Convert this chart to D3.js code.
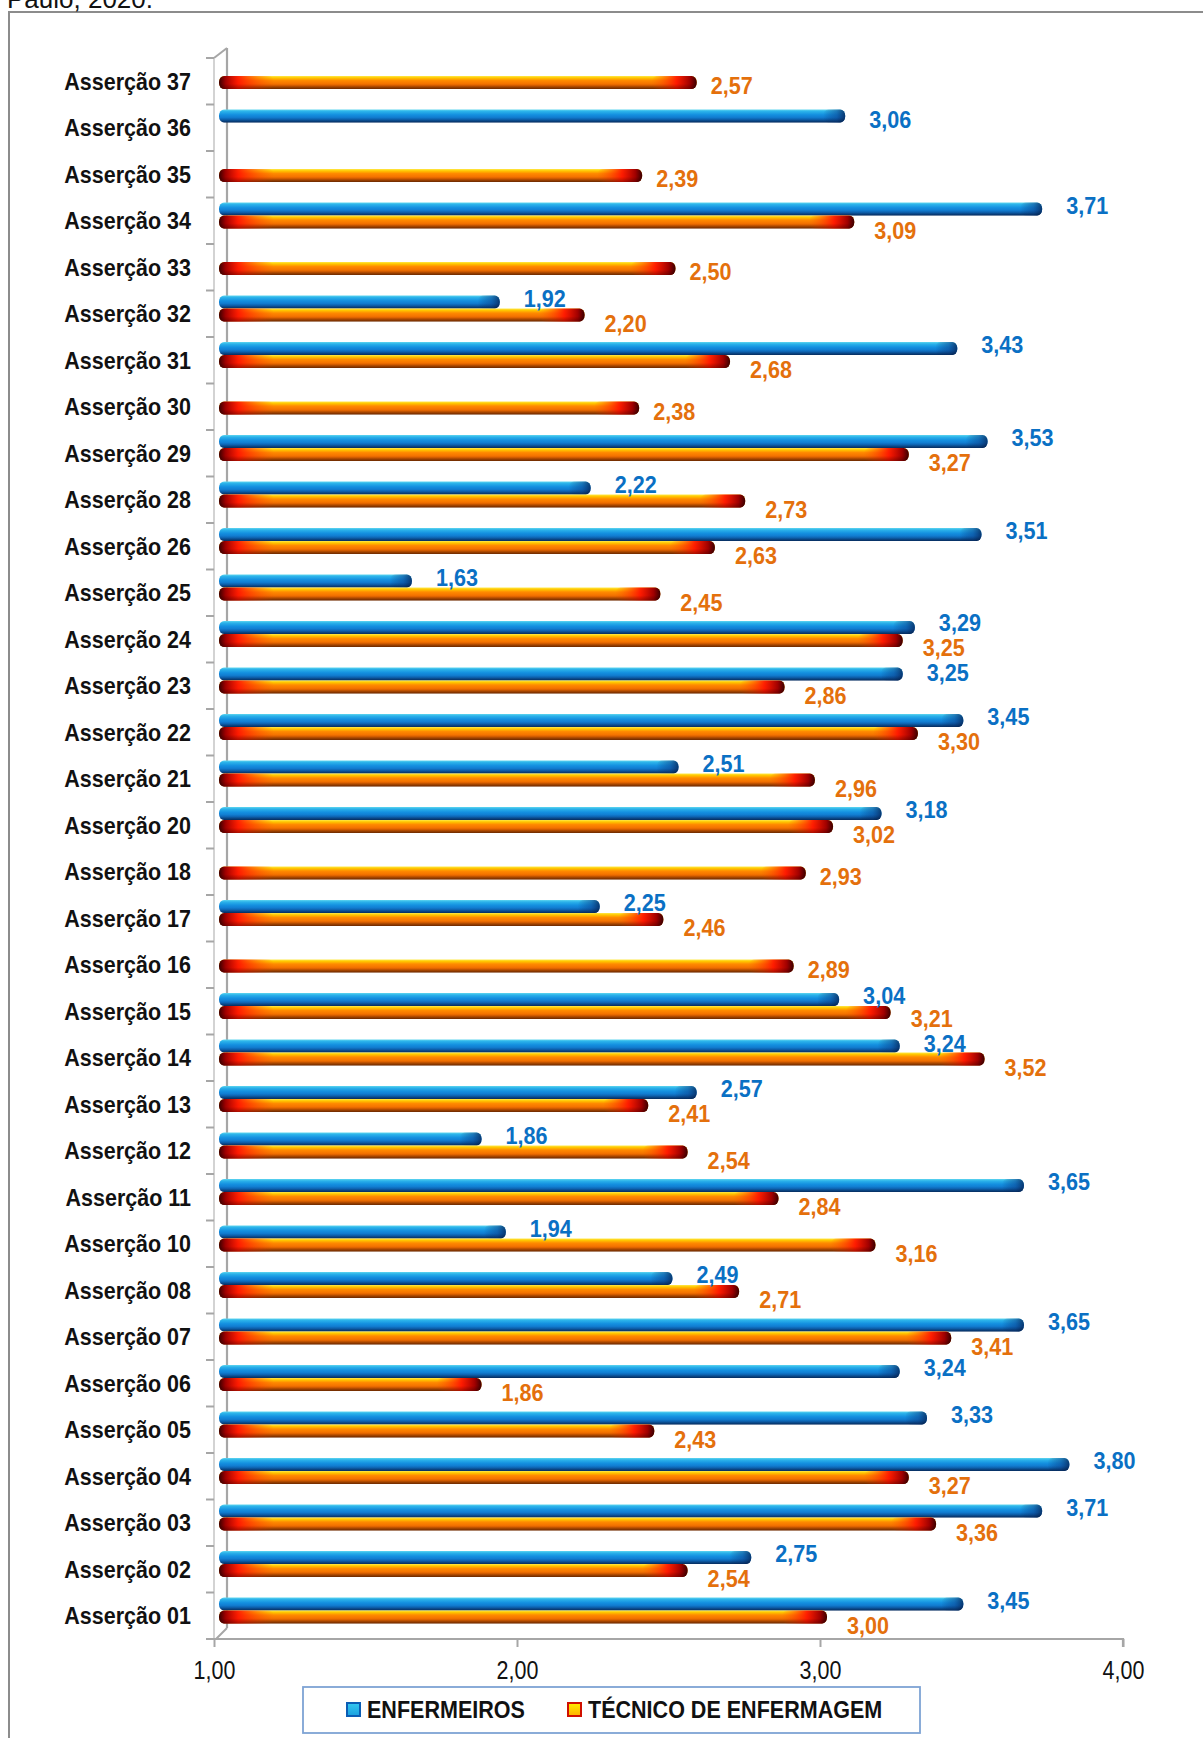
<!DOCTYPE html>
<html>
<head>
<meta charset="utf-8">
<script src="https://cdn.jsdelivr.net/npm/d3@7"></script>
<style>
  html, body { margin: 0; padding: 0; background: #fff; }
  svg { display: block; }
</style>
</head>
<body>
<svg id="chart" width="1203" height="1738"></svg>
<script>
// ---------- DATA ----------
const categories = ["Asserção 37","Asserção 36","Asserção 35","Asserção 34","Asserção 33","Asserção 32","Asserção 31","Asserção 30","Asserção 29","Asserção 28","Asserção 26","Asserção 25","Asserção 24","Asserção 23","Asserção 22","Asserção 21","Asserção 20","Asserção 18","Asserção 17","Asserção 16","Asserção 15","Asserção 14","Asserção 13","Asserção 12","Asserção 11","Asserção 10","Asserção 08","Asserção 07","Asserção 06","Asserção 05","Asserção 04","Asserção 03","Asserção 02","Asserção 01"];
const enfermeiros = [null,3.06,null,3.71,null,1.92,3.43,null,3.53,2.22,3.51,1.63,3.29,3.25,3.45,2.51,3.18,null,2.25,null,3.04,3.24,2.57,1.86,3.65,1.94,2.49,3.65,3.24,3.33,3.80,3.71,2.75,3.45];
const tecnico = [2.57,null,2.39,3.09,2.50,2.20,2.68,2.38,3.27,2.73,2.63,2.45,3.25,2.86,3.30,2.96,3.02,2.93,2.46,2.89,3.21,3.52,2.41,2.54,2.84,3.16,2.71,3.41,1.86,2.43,3.27,3.36,2.54,3.00];
const seriesNames = ["ENFERMEIROS","TÉCNICO DE ENFERMAGEM"];
const tickValues = [1,2,3,4];
const headerText = "Paulo, 2020.";

// ---------- SETUP ----------
const svg = d3.select("#chart");
const FONT = "'Liberation Sans',Arial,sans-serif";
const locale = d3.formatLocale({decimal: ",", thousands: ".", grouping: [3], currency: ["R$",""]});
const fmt = locale.format(".2f");

const x = d3.scaleLinear().domain([1, 4]).range([214, 1123]);
const y = d3.scaleBand().domain(categories).range([58, 1639]).padding(0);
const sub = d3.scaleBand().domain(["E","T"]).range([5, 31]).padding(0);
const barH = sub.bandwidth();
const depth = 7;

function narrow(sel, px, py, sx) {
  sel.attr("x", 0).attr("y", 0)
     .attr("transform", (d, i) => `translate(${px(d, i)},${py(d, i)}) scale(${sx},1)`);
  return sel;
}

// outer frame and header
svg.append("rect").attr("x", 9).attr("y", 12).attr("width", 1300).attr("height", 1800)
  .attr("fill", "none").attr("stroke", "#8c8c8c").attr("stroke-width", 2);
svg.append("text").attr("x", 7).attr("y", 8).text(headerText)
  .attr("font-family", FONT).attr("font-size", 26).attr("fill", "#111");

// ---------- GRADIENTS ----------
const defs = svg.append("defs");
function grad(id, horiz, stops) {
  const g = defs.append("linearGradient").attr("id", id)
    .attr("x1", 0).attr("y1", 0).attr("x2", horiz ? 1 : 0).attr("y2", horiz ? 0 : 1);
  stops.forEach(s => g.append("stop").attr("offset", s[0]).attr("stop-color", s[1])
    .attr("stop-opacity", s[2] == null ? 1 : s[2]));
}
grad("blueV", false, [[0,"#5fd6ef"],[0.15,"#2bb2ea"],[0.4,"#1490e0"],[0.75,"#0f6fc6"],[1,"#093f86"]]);
grad("blueEnd", true, [[0,"#062f6e",0],[0.6,"#0a3f8a",0.5],[1,"#06285c",0.85]]);
grad("orangeV", false, [[0,"#ffe94a"],[0.14,"#ffc800"],[0.35,"#ff8a00"],[0.7,"#f06a00"],[1,"#9a3a00"]]);
grad("orangeL", true, [[0,"#3a0000",1],[0.12,"#a00000",1],[0.35,"#ff1000",0.9],[1,"#ff4a00",0]]);
grad("orangeR", true, [[0,"#ff4a00",0],[0.55,"#ff1000",0.9],[0.85,"#a00000",1],[1,"#3a0000",1]]);
grad("shade", false, [[0,"#ffffff",0],[0.6,"#000000",0],[1,"#000000",0.3]]);
grad("legBlue", false, [[0,"#35c8f0"],[1,"#1aa0e0"]]);
grad("legOrange", false, [[0,"#ffee00"],[1,"#ffb000"]]);

// ---------- AXES (3D wall) ----------
const axisColor = "#a6a6a6";
const gAx = svg.append("g");
gAx.append("line").attr("x1", 227).attr("x2", 227).attr("y1", 48).attr("y2", 1628)
  .attr("stroke", axisColor).attr("stroke-width", 2.2);
gAx.append("line").attr("x1", x(1)).attr("y1", y.range()[0]).attr("x2", 227).attr("y2", 48)
  .attr("stroke", axisColor).attr("stroke-width", 2);
gAx.append("line").attr("x1", x(1) + 2).attr("y1", 1639).attr("x2", 227).attr("y2", 1628)
  .attr("stroke", axisColor).attr("stroke-width", 2);
gAx.append("line").attr("x1", x(1)).attr("x2", x(1)).attr("y1", y.range()[0]).attr("y2", y.range()[1])
  .attr("stroke", "#c4c4c4").attr("stroke-width", 1.5);
const boundaries = categories.map(c => y(c)).concat([y.range()[1]]);
gAx.selectAll(".ytick").data(boundaries).join("line")
  .attr("x1", x(1) - 8).attr("x2", x(1)).attr("y1", d => d).attr("y2", d => d)
  .attr("stroke", axisColor).attr("stroke-width", 2);

// x axis
const xAxis = d3.axisBottom(x).tickValues(tickValues).tickFormat(fmt).tickSize(8).tickPadding(10);
const gx = svg.append("g").attr("transform", "translate(0,1639)").call(xAxis);
gx.select(".domain").attr("stroke", axisColor).attr("stroke-width", 2.2).attr("d", `M${x(1)-8},0H${x(4)}V8`);
gx.selectAll(".tick line").attr("stroke", axisColor).attr("stroke-width", 2);
gx.selectAll(".tick text").attr("font-family", FONT).attr("font-size", 25).attr("fill", "#111")
  .attr("dy", null).attr("x", 0).attr("y", 0)
  .attr("transform", "translate(0,40) scale(0.86,1)");

// category labels
narrow(svg.append("g").selectAll("text").data(categories).join("text"),
       () => 191, d => y(d) + y.bandwidth() / 2 + 8.3, 0.935)
  .attr("text-anchor", "end").attr("font-family", FONT).attr("font-weight", "bold")
  .attr("font-size", 23).attr("fill", "#111").text(d => d);

// ---------- BARS ----------
const rows = categories.map((c, i) => ({cat: c, E: enfermeiros[i], T: tecnico[i]}));
const items = [];
rows.forEach(r => {
  const both = r.E != null && r.T != null;
  if (r.E != null) items.push({cat: r.cat, key: "E", v: r.E, both});
  if (r.T != null) items.push({cat: r.cat, key: "T", v: r.T, both});
});

const gBars = svg.append("g");
const bar = gBars.selectAll("g.bar").data(items).join("g").attr("class", "bar");
const x0 = x(1) + 5;
const bx1 = d => x(d.v) + depth;
const by = d => y(d.cat) + sub(d.key);

bar.append("rect")
  .attr("x", x0).attr("y", by).attr("width", d => bx1(d) - x0).attr("height", barH)
  .attr("rx", 5).attr("ry", 6)
  .attr("fill", d => d.key === "E" ? "url(#blueV)" : "url(#orangeV)");
bar.filter(d => d.key === "E").append("rect")
  .attr("x", d => bx1(d) - 22).attr("y", by).attr("width", 22).attr("height", barH)
  .attr("rx", 5).attr("ry", 6).attr("fill", "url(#blueEnd)");
bar.filter(d => d.key === "T").append("rect")
  .attr("x", x0).attr("y", by).attr("width", 55).attr("height", barH)
  .attr("rx", 5).attr("ry", 6).attr("fill", "url(#orangeL)");
bar.filter(d => d.key === "T").append("rect")
  .attr("x", d => bx1(d) - 45).attr("y", by).attr("width", 45).attr("height", barH)
  .attr("rx", 5).attr("ry", 6).attr("fill", "url(#orangeR)");
bar.append("rect")
  .attr("x", x0).attr("y", by).attr("width", d => bx1(d) - x0).attr("height", barH)
  .attr("rx", 5).attr("ry", 6).attr("fill", "url(#shade)");

// ---------- VALUE LABELS with simple collision avoidance ----------
const labels = items.map(d => {
  const c = by(d) + barH / 2;
  return {
    d,
    lx: x(d.v) + (d.key === "E" ? 31 : (d.both ? 27 : 21)),
    cy: !d.both ? c + 3 : (d.key === "E" ? c - 4 : c + 8)
  };
});
const LW = 42, LH = 25;
for (let iter = 0; iter < 30; iter++) {
  let moved = false;
  for (let i = 0; i < labels.length; i++) {
    for (let j = i + 1; j < labels.length; j++) {
      const a = labels[i], b = labels[j];
      if (Math.abs(a.lx - b.lx) >= LW) continue;
      const dy = b.cy - a.cy;
      if (Math.abs(dy) < LH) {
        const push = (LH - Math.abs(dy)) / 2 + 0.1;
        const s = dy >= 0 ? 1 : -1;
        a.cy -= s * push; b.cy += s * push;
        moved = true;
      }
    }
  }
  if (!moved) break;
}
const labelColor = {E: "#0a70c4", T: "#e4700c"};
narrow(svg.append("g").selectAll("text").data(labels).join("text"),
  l => l.lx, l => l.cy + 8.5, 0.92)
  .attr("font-family", FONT).attr("font-weight", "bold").attr("font-size", 23.5)
  .attr("fill", l => labelColor[l.d.key])
  .text(l => fmt(l.d.v));

// ---------- LEGEND ----------
const lg = svg.append("g");
lg.append("rect").attr("x", 303).attr("y", 1687).attr("width", 617).attr("height", 46)
  .attr("fill", "#fff").attr("stroke", "#7ea3d4").attr("stroke-width", 1.8);
const legendItems = [
  {name: seriesNames[0], x: 347, fill: "url(#legBlue)", stroke: "#0b5db5"},
  {name: seriesNames[1], x: 568, fill: "url(#legOrange)", stroke: "#d01000"}
];
const li = lg.selectAll("g").data(legendItems).join("g");
li.append("rect").attr("x", d => d.x).attr("y", 1703).attr("width", 13).attr("height", 13)
  .attr("fill", d => d.fill).attr("stroke", d => d.stroke).attr("stroke-width", 2);
narrow(li.append("text"), d => d.x + 20, () => 1718, 0.937)
  .attr("font-family", FONT).attr("font-weight", "bold").attr("font-size", 23)
  .attr("fill", "#111").text(d => d.name);
</script>
</body>
</html>
